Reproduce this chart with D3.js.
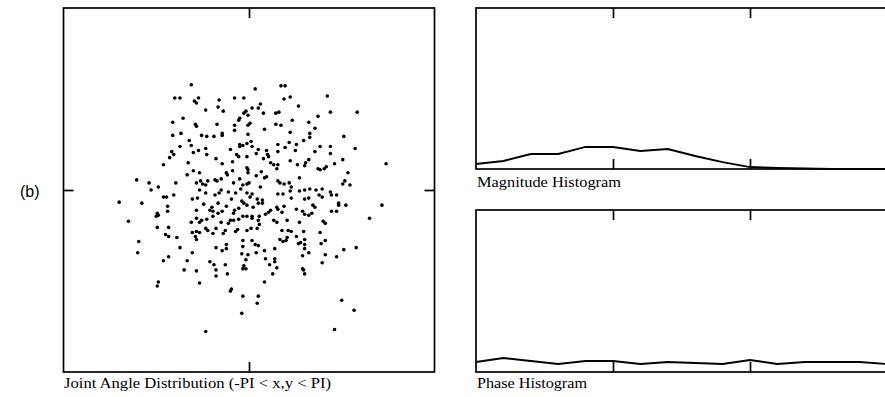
<!DOCTYPE html>
<html><head><meta charset="utf-8">
<script src="https://cdn.jsdelivr.net/npm/d3@7"></script>
<style>body{margin:0;background:#fff;overflow:hidden}svg{display:block}</style>
</head><body><svg id="c" width="885" height="397"></svg>
<script>
// Joint angle samples, in degrees (-180..180 == -PI..PI)
const angleX = [-56,-72,-67,-49,-53,-51,-29,-14,-5,-30,-25,-42,-64,-74,-52,-51,-31,-9,-10,-5,-3,-1,-14,-14,-26,-26,-34,-46,-41,-66,-74,-58,-67,-56,-49,-42,-54,-75,-73,-77,-41,-59,-32,-18,-9,-6,-9,-2,-12,-10,-2,-1,-83,-26,-16,
6,31,35,76,34,40,48,11,9,3,-1,14,26,29,79,105,42,67,58,1,26,31,15,64,40,59,59,92,2,3,28,39,46,53,35,69,79,103,9,7,17,18,19,28,45,64,79,14,21,24,40,47,58,55,83,91,133,
-2,-22,-21,-16,-54,-48,-60,-109,-97,-88,-95,-71,-51,-47,-45,-40,-42,-33,-31,-27,-15,-9,-6,-8,-2,-29,-33,-27,-20,-13,-2,-48,-42,-50,-55,-83,-80,-73,-126,-104,-79,-79,-44,-36,-38,-35,-30,-22,-17,-7,-5,-2,-51,-89,-88,-90,-30,-26,-15,-14,-10,-117,-56,-51,-48,-46,-41,-35,-27,-20,-18,-15,-10,-6,-2,-89,-78,-81,-78,-70,-55,-51,-48,-52,-51,-42,-40,-35,-32,-23,-25,-13,-11,-6,-107,-67,-32,-22,-22,-6,-2,
75,73,67,69,54,28,27,12,17,15,7,-1,-1,0,11,28,30,34,39,41,40,49,96,91,93,98,3,1,8,9,13,13,28,33,41,49,54,59,65,71,68,71,79,80,85,54,58,64,62,87,87,94,129,117,4,19,16,21,27,28,34,32,46,52,54,58,61,80,85,3,3,10,9,10,8,24,27,37,49,72,74,2,32,38,41,46,53,69,30,33,37,36,48,50,54,54,74,70,3,6,9,25,54,92,104,
-108,-55,-83,-78,-60,-63,-51,-38,-34,-26,-7,-1,-3,-5,-6,-3,-23,-32,-32,-21,-88,-89,-48,-17,-18,-6,-7,-42,
7,15,58,52,74,85,16,25,25,20,27,52,53,54,71,23,15,9,8,90,102,83];
const angleY = [104,91,91,91,88,86,89,91,91,82,78,79,71,67,65,63,65,71,69,76,78,64,64,59,56,54,53,54,53,56,54,49,43,44,39,41,37,38,35,32,35,27,31,40,45,44,43,46,35,33,33,55,25,26,28,
100,103,103,93,90,92,83,85,81,81,74,76,76,77,77,77,69,73,67,66,65,64,60,61,57,56,52,53,48,43,45,47,45,49,42,43,43,41,40,36,39,35,33,38,39,38,36,31,27,25,29,25,30,27,26,30,26,
22,17,15,19,19,17,15,10,7,3,0,7,7,9,6,9,5,10,9,11,7,11,5,1,6,-3,-5,0,-2,-3,-3,0,-3,-8,-9,-7,-7,-5,-12,-13,-16,-21,-14,-17,-20,-21,-13,-16,-9,-11,-13,-15,-20,-23,-25,-26,-23,-21,-23,-20,-18,-31,-32,-28,-32,-30,-29,-26,-32,-33,-30,-30,-29,-26,-26,-37,-37,-44,-46,-47,-42,-41,-42,-46,-49,-38,-40,-43,-38,-40,-43,-41,-39,-50,-51,-57,-57,-54,-58,-56,-40,
23,21,21,20,24,25,21,18,13,12,14,20,17,7,3,9,7,6,7,3,-1,12,17,6,9,5,-4,-7,-9,-13,-10,-13,-4,-4,-8,-1,0,1,0,1,-5,-7,-2,-5,-5,-9,-8,-17,-15,-13,-15,-15,-15,-28,-17,-22,-24,-20,-17,-19,-16,-22,-19,-21,-24,-25,-23,-21,-21,-26,-28,-26,-30,-34,-38,-30,-32,-30,-32,-31,-33,-38,-40,-40,-41,-46,-41,-42,-49,-51,-47,-50,-53,-52,-49,-54,-50,-53,-50,-54,-55,-58,-58,-59,-57,
-62,-62,-70,-66,-70,-79,-80,-71,-74,-60,-63,-64,-69,-75,-78,-78,-74,-79,-85,-83,-91,-95,-92,-98,-100,-105,-122,-140,
-62,-60,-62,-65,-64,-66,-68,-68,-71,-74,-77,-78,-79,-83,-72,-83,-91,-105,-112,-109,-119,-138];

// Histogram samples (x in tick units 0..3, y in % of panel height)
const histBins = [0,0.2,0.4,0.6,0.8,1,1.2,1.4,1.6,1.8,2,2.2,2.4,2.6,2.8,3];
const magnitudeHist = [3.1,5.0,9.3,9.3,13.7,13.7,11.2,12.4,8.1,4.3,1.2,0.6,0.3,0,0,0];
const phaseHist = [6.2,8.6,6.8,4.9,6.8,6.8,4.9,6.2,5.6,4.9,7.4,4.9,6.2,6.2,6.2,4.9];

const scatterTicks = [0];
const histTicks = [1, 2];
const scatterTitle = "Joint Angle Distribution (-PI < x,y < PI)";
const magnitudeTitle = "Magnitude Histogram";
const phaseTitle = "Phase Histogram";
const panelLabel = "(b)";

const svg = d3.select("#c");
const SERIF = "'Liberation Serif','Times New Roman',serif";

function frame(xs, ys, xt, yt, tickLen) {
  const [x0, x1] = xs.range(), [y1, y0] = ys.range();
  svg.append("rect").attr("x", x0).attr("y", y0).attr("width", x1 - x0).attr("height", y1 - y0)
    .attr("fill", "none").attr("stroke", "#000").attr("stroke-width", 1.7);
  const axes = [
    [d3.axisTop(xs).tickValues(xt), `translate(0,${y0})`],
    [d3.axisBottom(xs).tickValues(xt), `translate(0,${y1})`]
  ];
  if (yt) {
    axes.push([d3.axisLeft(ys).tickValues(yt), `translate(${x0},0)`]);
    axes.push([d3.axisRight(ys).tickValues(yt), `translate(${x1},0)`]);
  }
  axes.forEach(([ax, tr]) => {
    const g = svg.append("g").attr("transform", tr)
      .call(ax.tickSize(-tickLen).tickFormat(""));
    g.select(".domain").remove();
    g.selectAll(".tick line").attr("stroke", "#000").attr("stroke-width", 1.7);
  });
}

// Scatter panel
const sx = d3.scaleLinear([-180, 180], [63.5, 434.5]);
const sy = d3.scaleLinear([-180, 180], [372, 8]);
frame(sx, sy, scatterTicks, scatterTicks, 10);
svg.append("g").selectAll("circle").data(angleX.map((x, i) => [x, angleY[i]])).join("circle")
  .attr("cx", d => sx(d[0])).attr("cy", d => sy(d[1])).attr("r", 1.8).attr("fill", "#000");

svg.append("text").attr("x", 64).attr("y", 388).attr("font-family", SERIF).attr("font-size", 15)
  .attr("textLength", 267).attr("lengthAdjust", "spacingAndGlyphs").text(scatterTitle);

// Histogram panels
const hx = d3.scaleLinear([0, 3], [476, 887]);
function hist(values, top, bottom, title, tw, ty) {
  const ys = d3.scaleLinear([0, 100], [bottom, top]);
  frame(hx, ys, histTicks, null, 10);
  svg.append("path").datum(histBins.map((b, i) => [b, values[i]]))
    .attr("d", d3.line().x(d => hx(d[0])).y(d => ys(d[1])))
    .attr("fill", "none").attr("stroke", "#000").attr("stroke-width", 1.9);
  svg.append("text").attr("x", 477).attr("y", ty).attr("font-family", SERIF).attr("font-size", 15)
    .attr("textLength", tw).attr("lengthAdjust", "spacingAndGlyphs").text(title);
}
hist(magnitudeHist, 8, 169, magnitudeTitle, 144, 187);
hist(phaseHist, 210, 372, phaseTitle, 110, 388);

svg.append("text").attr("x", 20).attr("y", 197).attr("font-family", "'Liberation Sans',Arial,sans-serif")
  .attr("font-size", 16).text(panelLabel);
</script>
</body></html>
